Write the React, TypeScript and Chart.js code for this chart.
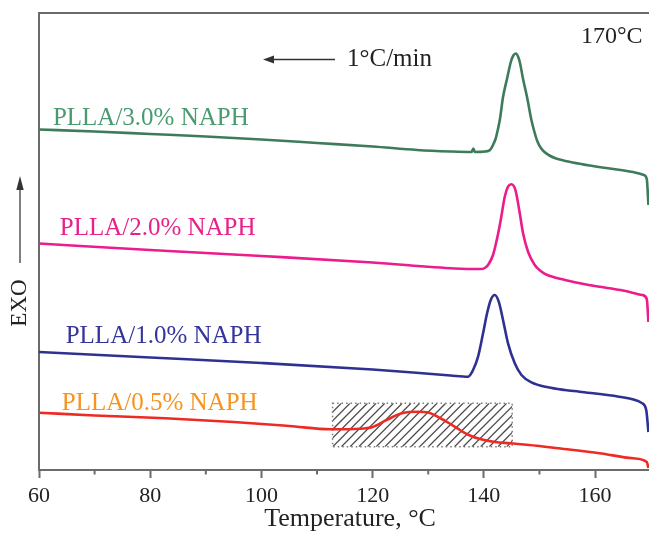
import React, { useEffect, useRef } from "react";
import { Chart, registerables } from "chart.js";

Chart.register(...registerables);

const FONT = "'Liberation Serif', 'Times New Roman', serif";
const AXIS_COLOR = "#6b6b6b";
const TEXT_COLOR = "#222222";

// x axis
const X_MIN = 60;
const X_MAX = 169.7;
const X_TICKS = [60, 80, 100, 120, 140, 160];
const X_MINOR_TICKS = [70, 90, 110, 130, 150];
const X_TITLE = "Temperature, °C";
// y axis (arbitrary heat-flow units, exo up, curves offset)
const Y_MIN = 0;
const Y_MAX = 45.7;

// PLLA/3.0% NAPH
const T_30 = [60, 70, 80, 90, 100, 110, 120, 128, 134, 137.8, 138.1, 138.4, 140.2, 141.1, 141.6, 142.1, 142.5, 142.9, 143.45, 144.2, 144.85, 145.3, 145.75, 146.15, 146.5, 147.05, 147.8, 148.55, 149.1, 149.6, 150.2, 150.9, 151.8, 153, 156, 159, 162, 166.8, 168.8, 169.3, 169.6];
const Y_30 = [34.05, 33.85, 33.6, 33.35, 33.05, 32.7, 32.35, 32.0, 31.85, 31.8, 32.15, 31.8, 31.85, 32.0, 32.45, 33.1, 34.0, 35.1, 37.3, 39.2, 40.8, 41.45, 41.65, 41.35, 40.7, 39.1, 37.2, 35.0, 33.8, 32.9, 32.25, 31.8, 31.45, 31.15, 30.75, 30.45, 30.2, 29.8, 29.5, 29.1, 26.5];

// PLLA/2.0% NAPH
const T_20 = [60, 80, 100, 120, 134.8, 139.6, 140.3, 140.76, 141.65, 142.45, 143.04, 143.76, 144.35, 144.96, 145.68, 146.46, 147.05, 147.95, 149.15, 150.1, 151.2, 152.75, 155, 157.5, 160.5, 164.6, 168.5, 169.3, 169.6];
const Y_20 = [22.65, 22.0, 21.4, 20.75, 20.15, 20.1, 20.25, 20.5, 21.5, 23.33, 25.0, 27.33, 28.33, 28.57, 28.0, 25.67, 23.67, 21.83, 20.5, 19.95, 19.55, 19.25, 18.95, 18.65, 18.35, 18.0, 17.5, 17.1, 14.8];

// PLLA/1.0% NAPH
const T_10 = [60, 80, 100, 120, 134, 137.16, 138.06, 138.96, 139.86, 140.58, 141.24, 141.96, 142.68, 143.45, 144.35, 145.56, 146.76, 148.56, 151.55, 154.55, 157.2, 164.3, 168.4, 169.2, 169.6];
const Y_10 = [11.8, 11.25, 10.7, 10.05, 9.45, 9.33, 10.0, 11.33, 13.67, 15.67, 17.0, 17.5, 16.83, 15.0, 12.67, 10.67, 9.5, 8.77, 8.27, 8.0, 7.83, 7.33, 6.7, 6.0, 3.8];

// PLLA/0.5% NAPH
const T_05 = [60, 70, 82.7, 95, 105, 112.5, 117.7, 120, 122.5, 125.4, 128.2, 130, 132.1, 134, 135.7, 137.5, 139.3, 142, 144.7, 149.5, 153.4, 160.8, 166.8, 169.3, 169.6];
const Y_05 = [5.73, 5.45, 5.17, 4.8, 4.4, 4.07, 4.12, 4.3, 5.0, 5.7, 5.83, 5.75, 5.2, 4.6, 4.0, 3.45, 3.1, 2.8, 2.67, 2.43, 2.17, 1.67, 1.17, 0.8, 0.2];

const SERIES_NAMES = ["PLLA/3.0% NAPH", "PLLA/2.0% NAPH", "PLLA/1.0% NAPH", "PLLA/0.5% NAPH"];

// hatched crystallisation region
const HATCH_T = [112.8, 145.1];
const HATCH_Y = [2.33, 6.67];

export default function App() {
  const ref = useRef<HTMLCanvasElement | null>(null);

  useEffect(() => {
    if (!ref.current) return;
    const pts = (ts: number[], ys: number[]) => ts.map((t, i) => ({ x: t, y: ys[i] }));

    const seriesStyle = [
      { line: "#3e7b5b", label: "#4a9a70", at: [62.5, 35.17] },
      { line: "#ec1c8c", label: "#e8218a", at: [63.73, 24.17] },
      { line: "#2e3192", label: "#33359a", at: [64.8, 13.33] },
      { line: "#ee2a24", label: "#f7931e", at: [64.1, 6.67] },
    ];
    const seriesData = [pts(T_30, Y_30), pts(T_20, Y_20), pts(T_10, Y_10), pts(T_05, Y_05)];

    const overlay = {
      id: "overlay",
      beforeDatasetsDraw(chart: any) {
        const { ctx, scales } = chart;
        const xs = scales.x;
        const ys = scales.y;
        const x0 = xs.getPixelForValue(HATCH_T[0]);
        const x1 = xs.getPixelForValue(HATCH_T[1]);
        const yTop = ys.getPixelForValue(HATCH_Y[1]);
        const yBot = ys.getPixelForValue(HATCH_Y[0]);
        ctx.save();
        ctx.beginPath();
        ctx.rect(x0, yTop, x1 - x0, yBot - yTop);
        ctx.clip();
        ctx.strokeStyle = "#4a4a4a";
        ctx.lineWidth = 1.3;
        const h = yBot - yTop;
        for (let x = x0 - h; x < x1 + h; x += 8.7) {
          ctx.beginPath();
          ctx.moveTo(x, yBot);
          ctx.lineTo(x + h, yTop);
          ctx.stroke();
        }
        ctx.restore();
        ctx.save();
        ctx.strokeStyle = "#7a7a7a";
        ctx.lineWidth = 1.5;
        ctx.setLineDash([1.5, 3]);
        ctx.strokeRect(x0, yTop, x1 - x0, yBot - yTop);
        ctx.restore();
      },
      afterDraw(chart: any) {
        const { ctx, chartArea, scales } = chart;
        const xs = scales.x;
        ctx.save();
        // top frame line
        ctx.strokeStyle = AXIS_COLOR;
        ctx.lineWidth = 2;
        ctx.beginPath();
        ctx.moveTo(chartArea.left - 1, chartArea.top);
        ctx.lineTo(chartArea.right, chartArea.top);
        ctx.stroke();
        // minor ticks
        X_MINOR_TICKS.forEach((v) => {
          const x = xs.getPixelForValue(v);
          ctx.beginPath();
          ctx.moveTo(x, chartArea.bottom);
          ctx.lineTo(x, chartArea.bottom + 4.5);
          ctx.stroke();
        });

        // x axis title
        ctx.fillStyle = TEXT_COLOR;
        ctx.font = `26px ${FONT}`;
        ctx.textAlign = "center";
        ctx.textBaseline = "middle";
        ctx.fillText(X_TITLE, 350, 519);

        // series labels
        ctx.textAlign = "left";
        ctx.textBaseline = "middle";
        ctx.font = `25px ${FONT}`;
        seriesStyle.forEach((s, i) => {
          ctx.fillStyle = s.label;
          ctx.fillText(SERIES_NAMES[i], xs.getPixelForValue(s.at[0]), scales.y.getPixelForValue(s.at[1]));
        });

        // annotations
        ctx.fillStyle = TEXT_COLOR;
        ctx.font = `24px ${FONT}`;
        ctx.fillText("170°C", 581, 37);
        ctx.font = `25px ${FONT}`;
        ctx.fillText("1°C/min", 347, 59);

        // heating-rate arrow
        ctx.strokeStyle = "#333";
        ctx.fillStyle = "#333";
        ctx.lineWidth = 1.5;
        ctx.beginPath();
        ctx.moveTo(271, 59.5);
        ctx.lineTo(335, 59.5);
        ctx.stroke();
        ctx.beginPath();
        ctx.moveTo(263, 59.5);
        ctx.lineTo(274, 55.5);
        ctx.lineTo(274, 63.5);
        ctx.closePath();
        ctx.fill();

        // EXO label and arrow
        ctx.save();
        ctx.translate(20, 303);
        ctx.rotate(-Math.PI / 2);
        ctx.fillStyle = TEXT_COLOR;
        ctx.font = `23px ${FONT}`;
        ctx.textAlign = "center";
        ctx.textBaseline = "middle";
        ctx.fillText("EXO", 0, 0);
        ctx.restore();
        ctx.strokeStyle = "#555";
        ctx.fillStyle = "#333";
        ctx.lineWidth = 1.5;
        ctx.beginPath();
        ctx.moveTo(20, 263);
        ctx.lineTo(20, 186);
        ctx.stroke();
        ctx.beginPath();
        ctx.moveTo(20, 176);
        ctx.lineTo(16.3, 190);
        ctx.lineTo(23.7, 190);
        ctx.closePath();
        ctx.fill();
        ctx.restore();
      },
    };

    const chart = new Chart(ref.current, {
      type: "line",
      data: {
        datasets: seriesData.map((d, i) => ({
          label: SERIES_NAMES[i],
          data: d,
          borderColor: seriesStyle[i].line,
          backgroundColor: seriesStyle[i].line,
          borderWidth: 2.6,
          pointRadius: 0,
          fill: false,
          cubicInterpolationMode: "monotone" as const,
        })),
      },
      options: {
        responsive: false,
        animation: false,
        devicePixelRatio: 1,
        layout: { padding: { top: 13, left: 0, right: 0, bottom: 0 } },
        plugins: { legend: { display: false }, tooltip: { enabled: false } },
        scales: {
          x: {
            type: "linear",
            min: X_MIN,
            max: X_MAX,
            afterBuildTicks: (s: any) => {
              s.ticks = X_TICKS.map((value) => ({ value }));
            },
            afterFit: (s: any) => {
              s.height = 64;
            },
            ticks: {
              autoSkip: false,
              maxRotation: 0,
              padding: 5,
              color: TEXT_COLOR,
              font: { family: FONT, size: 22 },
            },
            grid: {
              drawOnChartArea: false,
              drawTicks: true,
              tickLength: 8,
              tickColor: AXIS_COLOR,
              tickWidth: 2,
            },
            border: { display: true, color: AXIS_COLOR, width: 2 },
            title: { display: false, text: X_TITLE },
          },
          y: {
            type: "linear",
            min: Y_MIN,
            max: Y_MAX,
            afterFit: (s: any) => {
              s.width = 39;
            },
            ticks: { display: false },
            grid: { display: false, drawTicks: false },
            border: { display: true, color: AXIS_COLOR, width: 2 },
          },
        },
      },
      plugins: [overlay],
    });
    return () => chart.destroy();
  }, []);

  return (
    <div style={{ position: "absolute", left: 0, top: 0, width: 649, height: 534, background: "#fff" }}>
      <canvas ref={ref} width={649} height={534} style={{ display: "block" }} />
    </div>
  );
}
